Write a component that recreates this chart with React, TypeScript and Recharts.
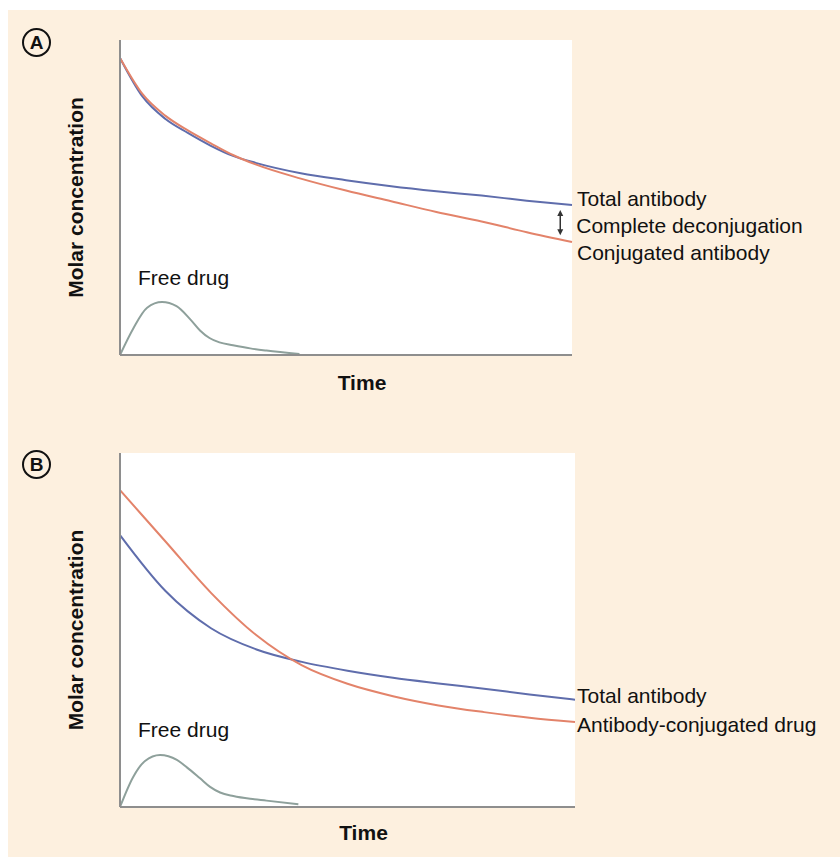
import { LineChart, Line, XAxis, YAxis, CartesianGrid, ReferenceLine } from "recharts";

const FONT = "'Liberation Sans', Arial, Helvetica, sans-serif";
const AXIS = "#8e8e8e";
const BLUE = "#5f6dac";
const ORANGE = "#e3836a";
const GREY = "#8ea09b";
const INK = "#111";

// panel A
const timeA = [0, 5, 10, 15, 20, 25, 30, 40, 50, 60, 70, 80, 90, 100];
const totalAntibodyA = [94.3, 82, 75, 70.5, 66.5, 63.2, 61, 57.7, 55.5, 53.6, 52, 50.6, 49, 47.6];
const conjugatedAntibodyA = [94.3, 82.8, 76, 71.3, 67.3, 63.5, 60.5, 56, 52.2, 48.8, 45.4, 42.4, 39, 35.9];
const freeTimeA = [0, 3, 6, 9.3, 12.5, 15.5, 17.7, 19.8, 22, 25, 28.8, 32.4, 39.7];
const freeDrugA = [0, 8.6, 15, 16.8, 15.5, 11.4, 7.8, 5.4, 4, 3.1, 2.1, 1.4, 0.3];

// panel B
const timeB = [0, 10, 20, 30, 40, 50, 60, 70, 80, 90, 100];
const totalAntibodyB = [76.8, 61, 50.5, 44.5, 41, 38.5, 36.5, 34.9, 33.4, 31.8, 30.3];
const conjugatedDrugB = [89.5, 75, 60.5, 48.5, 40, 34.8, 31.3, 28.7, 26.8, 25.2, 24];
const freeTimeB = [0, 2.9, 5.5, 8.8, 12.5, 14.7, 17.6, 19.8, 22, 24.9, 28.6, 32.2, 39.2];
const freeDrugB = [0, 8.5, 13, 14.7, 13.3, 11.2, 8.1, 5.7, 4.1, 3.1, 2.3, 1.8, 0.8];

const toPoints = (ts: number[], vs: number[]) => ts.map((t, i) => ({ t, v: vs[i] }));

const textLabel = (text: string, at: number, dx: number, dy: number) => (p: any) =>
  p.index === at ? (
    <text x={p.x + dx} y={p.y + dy} fontSize={21} fill={INK} fontFamily={FONT}>
      {text}
    </text>
  ) : null;

const deconjArrow = (p: any) => {
  const x = p.x1;
  const yt = Math.min(p.y1, p.y2);
  const yb = Math.max(p.y1, p.y2);
  return (
    <g>
      <line x1={x} y1={yt + 3} x2={x} y2={yb - 3} stroke="#333" strokeWidth={1.5} />
      <polygon points={`${x - 3},${yt + 6} ${x + 3},${yt + 6} ${x},${yt}`} fill="#333" />
      <polygon points={`${x - 3},${yb - 6} ${x + 3},${yb - 6} ${x},${yb}`} fill="#333" />
      <text x={x + 16} y={(yt + yb) / 2 + 10} fontSize={21} fill={INK} fontFamily={FONT}>
        Complete deconjugation
      </text>
    </g>
  );
};

const Circled = ({ letter, top }: { letter: string; top: number }) => (
  <div
    style={{
      position: "absolute",
      left: 14,
      top,
      width: 29,
      height: 29,
      boxSizing: "border-box",
      border: "2px solid #111",
      borderRadius: "50%",
      display: "flex",
      alignItems: "center",
      justifyContent: "center",
      fontWeight: 700,
      fontSize: 19,
      color: INK,
      fontFamily: FONT,
    }}
  >
    {letter}
  </div>
);

const axisTitle = { fontSize: 21, fontWeight: 700, fill: INK };

export default function App() {
  const last = timeA.length - 1;
  const lastB = timeB.length - 1;
  return (
    <div
      style={{
        position: "absolute",
        left: 8,
        top: 10,
        width: 832,
        height: 847,
        background: "#fdf0df",
        overflow: "hidden",
        fontFamily: FONT,
      }}
    >
      <Circled letter="A" top={18} />
      <Circled letter="B" top={440} />

      <div style={{ position: "absolute", left: 0, top: 0 }}>
        <LineChart width={832} height={410} margin={{ top: 30, right: 268, bottom: 10, left: 23 }}>
          <CartesianGrid horizontal={false} vertical={false} fill="#fff" stroke="none" />
          <XAxis
            type="number"
            dataKey="t"
            domain={[0, 100]}
            height={55}
            tick={false}
            tickLine={false}
            axisLine={{ stroke: AXIS, strokeWidth: 2 }}
            label={{ value: "Time", position: "center", dx: 16, ...axisTitle }}
          />
          <YAxis
            type="number"
            domain={[0, 100]}
            width={89}
            tick={false}
            tickLine={false}
            axisLine={{ stroke: AXIS, strokeWidth: 2 }}
            label={{ value: "Molar concentration", angle: -90, position: "center", ...axisTitle }}
          />
          <Line
            data={toPoints(timeA, totalAntibodyA)}
            dataKey="v"
            type="monotone"
            stroke={BLUE}
            strokeWidth={2}
            dot={false}
            activeDot={false}
            isAnimationActive={false}
            label={textLabel("Total antibody", last, 5, 1)}
          />
          <Line
            data={toPoints(timeA, conjugatedAntibodyA)}
            dataKey="v"
            type="monotone"
            stroke={ORANGE}
            strokeWidth={2}
            dot={false}
            activeDot={false}
            isAnimationActive={false}
            label={textLabel("Conjugated antibody", last, 5, 18)}
          />
          <Line
            data={toPoints(freeTimeA, freeDrugA)}
            dataKey="v"
            type="monotone"
            stroke={GREY}
            strokeWidth={2}
            dot={false}
            activeDot={false}
            isAnimationActive={false}
            label={textLabel("Free drug", 3, -24, -17)}
          />
          <ReferenceLine
            segment={[
              { x: 97.4, y: 46 },
              { x: 97.4, y: 38 },
            ]}
            ifOverflow="visible"
            shape={deconjArrow}
          />
        </LineChart>
      </div>

      <div style={{ position: "absolute", left: 0, top: 410 }}>
        <LineChart width={832} height={437} margin={{ top: 33, right: 265, bottom: 0, left: 23 }}>
          <CartesianGrid horizontal={false} vertical={false} fill="#fff" stroke="none" />
          <XAxis
            type="number"
            dataKey="t"
            domain={[0, 100]}
            height={50}
            tick={false}
            tickLine={false}
            axisLine={{ stroke: AXIS, strokeWidth: 2 }}
            label={{ value: "Time", position: "center", dx: 16, dy: 1, ...axisTitle }}
          />
          <YAxis
            type="number"
            domain={[0, 100]}
            width={89}
            tick={false}
            tickLine={false}
            axisLine={{ stroke: AXIS, strokeWidth: 2 }}
            label={{ value: "Molar concentration", angle: -90, position: "center", ...axisTitle }}
          />
          <Line
            data={toPoints(timeB, totalAntibodyB)}
            dataKey="v"
            type="monotone"
            stroke={BLUE}
            strokeWidth={2}
            dot={false}
            activeDot={false}
            isAnimationActive={false}
            label={textLabel("Total antibody", lastB, 2, 3)}
          />
          <Line
            data={toPoints(timeB, conjugatedDrugB)}
            dataKey="v"
            type="monotone"
            stroke={ORANGE}
            strokeWidth={2}
            dot={false}
            activeDot={false}
            isAnimationActive={false}
            label={textLabel("Antibody-conjugated drug", lastB, 2, 10)}
          />
          <Line
            data={toPoints(freeTimeB, freeDrugB)}
            dataKey="v"
            type="monotone"
            stroke={GREY}
            strokeWidth={2}
            dot={false}
            activeDot={false}
            isAnimationActive={false}
            label={textLabel("Free drug", 3, -22, -18)}
          />
        </LineChart>
      </div>
    </div>
  );
}
